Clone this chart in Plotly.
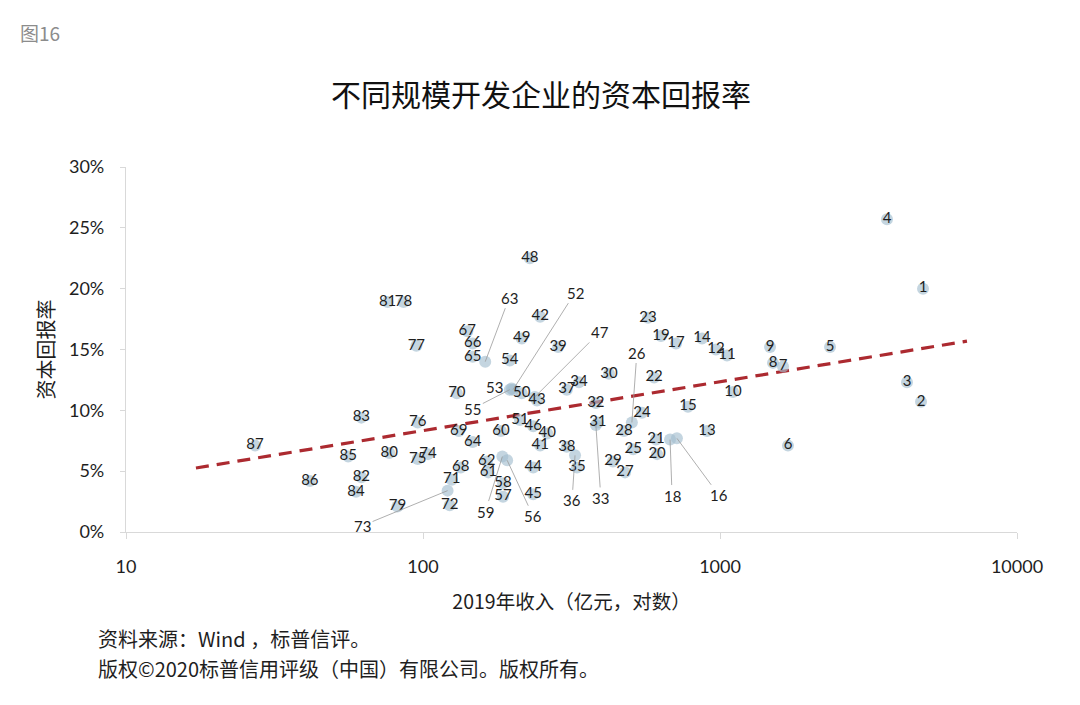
import numpy as np
import plotly.graph_objects as go

# ---- data ----
ids = list(range(1, 88))
revenue = [4826, 4752, 4262, 3650, 2347, 1694, 1630, 1508, 1474, 1106,
           1056, 969, 904, 870, 780, 716, 711, 679, 633, 614,
           609, 600, 572, 546, 510, 505, 479, 475, 436, 423,
           388, 382, 382, 335, 330, 325, 305, 305, 285, 262,
           248, 248, 242, 235, 235, 235, 238, 229, 215, 215,
           212, 201, 199, 196, 196, 192, 186, 186, 185, 183,
           166, 164, 162, 147, 147, 147, 141, 134, 132, 130,
           125, 123, 121, 104, 96, 96, 95, 86, 82, 77,
           76, 62, 62, 59.5, 56, 41.6, 27.2]
roe = [20.0, 10.7, 12.3, 25.7, 15.2, 7.1, 13.6, 13.9, 15.2, 11.5,
       14.5, 15.0, 8.3, 15.9, 10.3, 7.7, 15.5, 7.6, 16.1, 6.4,
       7.6, 12.7, 17.6, 9.8, 6.8, 9.0, 4.9, 8.3, 5.8, 13.0,
       9.0, 10.6, 8.8, 12.3, 5.3, 6.3, 11.7, 7.0, 15.2, 8.1,
       7.1, 17.7, 10.8, 5.3, 3.1, 8.7, 11.1, 22.5, 15.9, 11.4,
       9.2, 11.7, 11.8, 14.1, 11.7, 5.9, 2.9, 4.0, 6.2, 8.3,
       4.9, 5.8, 14.0, 7.4, 14.4, 15.5, 16.5, 5.3, 8.3, 11.4,
       4.3, 2.2, 3.4, 6.4, 6.0, 9.0, 15.3, 18.9, 2.1, 6.5,
       18.9, 4.5, 9.4, 3.3, 6.2, 4.2, 7.1]
trend_x = [17.2, 6785]
trend_y = [5.26, 15.69]
x_ticks = [10, 100, 1000, 10000]
y_ticks = [0, 5, 10, 15, 20, 25, 30]

# label placement (pixel offsets of label from point)
leader_offsets = {63: (24, -64), 52: (62, -97), 47: (65, -65), 55: (-37, 19),
                  26: (5, -70), 33: (5, 73), 36: (-3, 45), 18: (2, 56),
                  16: (42, 57), 73: (-85, 35), 59: (-17, 55), 56: (26, 56)}
plain_offsets = {53: (-17, -1)}

FONT = "Lato, 'Noto Sans CJK SC', sans-serif"
CJK = "'Noto Sans CJK SC', Lato, sans-serif"
TXT = "#1e1e1e"
LBL = 15

texts = [str(i) if (i not in leader_offsets and i not in plain_offsets) else "" for i in ids]

fig = go.Figure()
fig.add_trace(go.Scatter(
    x=trend_x, y=trend_y, mode="lines",
    line=dict(color="rgb(172,42,48)", width=3.2, dash="13px,8px"),
    hoverinfo="skip", showlegend=False))
fig.add_trace(go.Scatter(
    x=revenue, y=roe, mode="markers+text", text=texts,
    textposition="middle center",
    textfont=dict(family=FONT, size=LBL, color=TXT),
    marker=dict(size=12, color="rgba(165,190,208,0.65)", line=dict(width=0)),
    showlegend=False))

annotations = []
for i, (dx, dy) in leader_offsets.items():
    annotations.append(dict(
        x=np.log10(revenue[i - 1]), y=roe[i - 1], xref="x", yref="y",
        text=str(i), showarrow=True, arrowhead=0, arrowwidth=0.8,
        arrowcolor="#9a9a9a", ax=dx, ay=dy, standoff=0,
        font=dict(family=FONT, size=LBL, color=TXT)))
for i, (dx, dy) in plain_offsets.items():
    annotations.append(dict(
        x=np.log10(revenue[i - 1]), y=roe[i - 1], xref="x", yref="y",
        text=str(i), showarrow=False, xshift=dx, yshift=-dy,
        font=dict(family=FONT, size=LBL, color=TXT)))

# page has an 8px body margin, so pixel targets are shifted by -8
OFF = 8
page_texts = [
    dict(text="图16", x=18, y=32, size=19, color="#8c8c8c"),
    dict(text="资料来源：Wind ，标普信评。", x=96, y=638, size=20, color=TXT),
    dict(text="版权©2020标普信用评级（中国）有限公司。版权所有。", x=96, y=668, size=20, color=TXT),
]
W, H = 1080, 705
L, T = 126 - OFF, 167 - OFF
R, B = W - (1017 - OFF), H - (532 - OFF)
pw, ph = W - L - R, H - T - B
for p in page_texts:
    annotations.append(dict(
        text=p["text"], showarrow=False, xref="paper", yref="paper",
        x=(p["x"] - OFF - L) / pw, y=1 - (p["y"] - OFF - T) / ph,
        xanchor="left", yanchor="middle",
        font=dict(family=CJK, size=p["size"], color=p["color"])))

fig.update_layout(
    width=W, height=H,
    margin=dict(l=L, r=R, t=T, b=B, autoexpand=False),
    paper_bgcolor="white", plot_bgcolor="white",
    title=dict(text="不同规模开发企业的资本回报率", x=(541 - OFF) / W, xanchor="center",
               y=1 - (95 - OFF) / H, yanchor="middle",
               font=dict(family=CJK, size=30, color="#111")),
    annotations=annotations,
    xaxis=dict(type="log", range=[1, 4], tickvals=x_ticks,
               ticktext=[str(v) for v in x_ticks],
               showgrid=False, zeroline=False, showline=True,
               linecolor="#d9d9d9", linewidth=1.2, ticks="outside",
               ticklen=6, tickcolor="#d9d9d9", ticklabelstandoff=12,
               tickfont=dict(family=FONT, size=18, color=TXT),
               title=dict(text="2019年收入（亿元，对数）", standoff=19,
                          font=dict(family=CJK, size=19.5, color=TXT))),
    yaxis=dict(range=[0, 30], tickvals=y_ticks,
               ticktext=[f"{v}%" for v in y_ticks],
               showgrid=False, zeroline=False, showline=True,
               linecolor="#d9d9d9", linewidth=1.2, ticks="outside",
               ticklen=5, tickcolor="#d9d9d9", ticklabelstandoff=12,
               tickfont=dict(family=FONT, size=18, color=TXT),
               title=dict(text="资本回报率", standoff=8,
                          font=dict(family=CJK, size=20, color=TXT))),
)

fig.write_html("out.html")
